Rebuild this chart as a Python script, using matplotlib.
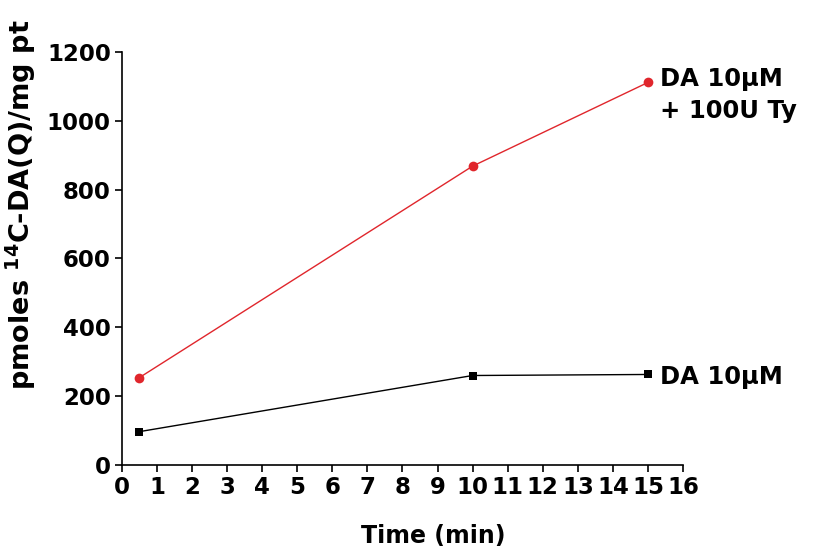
import numpy as np
import matplotlib.pyplot as plt

# data
time_min = [0.5, 10, 15]
da_ty = [254, 868, 1111]      # DA 10uM + 100U Ty
da_only = [97, 260, 263]      # DA 10uM

x_ticks = list(range(0, 17))
y_ticks = [0, 200, 400, 600, 800, 1000, 1200]

plt.rcParams['font.family'] = ['DejaVu Sans']
plt.rcParams['font.weight'] = 'bold'

fig = plt.figure(figsize=(8.18, 5.51), dpi=100)
ax = fig.add_axes([0.149, 0.156, 0.686, 0.750])

ax.plot(time_min, da_ty, color='#e0262c', lw=1.0, marker='o', ms=7,
        markeredgewidth=0, clip_on=False)
ax.plot(time_min, da_only, color='black', lw=1.0, marker='s', ms=6,
        markeredgewidth=0, clip_on=False)

ax.set_xlim(0, 16)
ax.set_ylim(0, 1200)
ax.set_xticks(x_ticks)
ax.set_yticks(y_ticks)

for s in ['top', 'right']:
    ax.spines[s].set_visible(False)
for s in ['left', 'bottom']:
    ax.spines[s].set_linewidth(1.2)

ax.tick_params(axis='both', direction='out', length=5, width=1.2,
               labelsize=16.5, pad=3)
for lab in ax.get_xticklabels() + ax.get_yticklabels():
    lab.set_fontweight('bold')

ax.set_xlabel('Time (min)', fontsize=17, fontweight='bold')
ax.xaxis.set_label_coords(0.555, -0.142)
ax.set_ylabel(r'pmoles $^{\mathbf{14}}$C-DA(Q)/mg pt', fontsize=19.5,
              fontweight='bold')
ax.yaxis.set_label_coords(-0.150, 0.63)

ax.annotate('DA 10µM\n+ 100U Ty', xy=(time_min[-1], da_ty[-1]),
            xytext=(9, 11), textcoords='offset points',
            fontsize=17.5, fontweight='bold', va='top', ha='left',
            linespacing=1.4, annotation_clip=False)
ax.annotate('DA 10µM', xy=(time_min[-1], da_only[-1]),
            xytext=(9, -2), textcoords='offset points',
            fontsize=17.5, fontweight='bold', va='center', ha='left',
            annotation_clip=False)

fig.savefig('out.png', dpi=100)
